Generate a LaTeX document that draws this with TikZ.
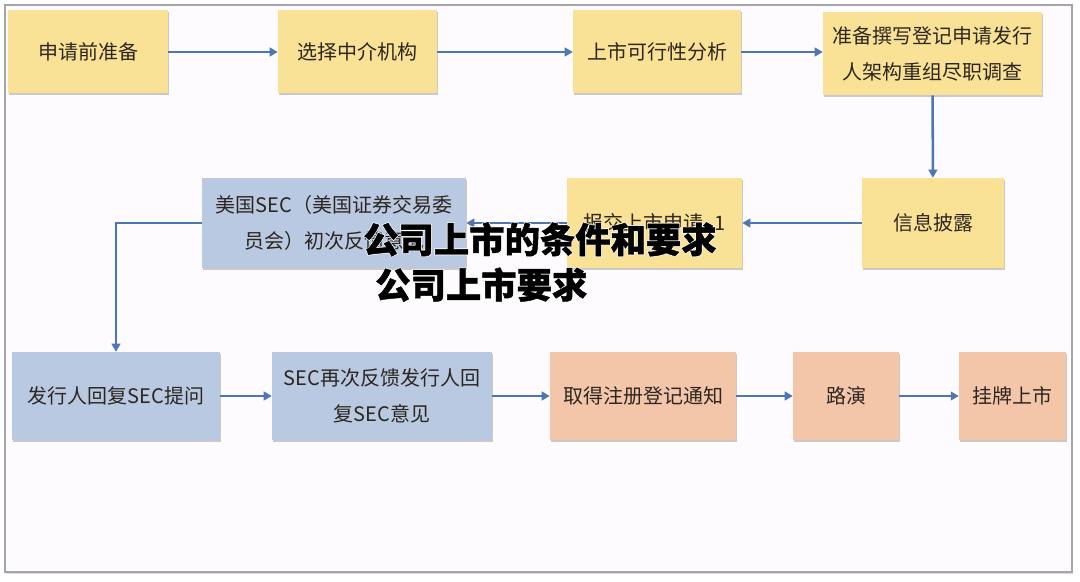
\documentclass[tikz,border=0pt]{standalone}
\usepackage{fontspec}
\usepackage{xcolor}
\usepackage{tikz}
\usetikzlibrary{arrows.meta,shadows}
\setmainfont{Noto Sans CJK SC}
\newfontfamily\titlefont{Noto Sans CJK SC}[BoldFeatures={FakeBold=1.2}]
\newfontfamily\halofont{Noto Sans CJK SC}[BoldFeatures={FakeBold=5}]

\definecolor{boxyellow}{RGB}{249,225,150}
\definecolor{boxblue}{RGB}{186,201,226}
\definecolor{boxpeach}{RGB}{243,198,170}
\definecolor{boxtext}{RGB}{45,38,32}
\definecolor{flowblue}{RGB}{78,118,178}
\definecolor{framegray}{RGB}{165,165,170}
\definecolor{pagebg}{RGB}{253,251,253}

\tikzset{
  box/.style={rectangle, inner sep=0pt, align=center, text=boxtext,
    font=\fontsize{15}{27}\selectfont,
    drop shadow={shadow xshift=0.8pt, shadow yshift=-1.2pt, fill=black!40, opacity=0.5}},
  yellowbox/.style={box, fill=boxyellow},
  bluebox/.style={box, fill=boxblue},
  peachbox/.style={box, fill=boxpeach},
  rowone/.style={minimum height=62.25pt},
  rowtwo/.style={minimum height=67.5pt},
  rowthree/.style={minimum height=66pt},
  flow/.style={draw=flowblue, line width=1.9pt, -{Triangle[length=6pt,width=6.5pt]}},
}

\begin{document}
\begin{tikzpicture}[x=0.75pt, y=-0.75pt]
\useasboundingbox (0,0) rectangle (1080,581);
\fill[white] (0,0) rectangle (1080,581);
\draw[framegray, line width=1.2pt, fill=pagebg,
  drop shadow={shadow xshift=1pt, shadow yshift=-1.5pt, fill=black!30, opacity=0.5}]
  (5,5) rectangle (1072,572);

\node[yellowbox, rowone, minimum width=120pt] (prep) at (88,52) {申请前准备};
\node[yellowbox, rowone, minimum width=119.25pt] (agency) at (357.5,52) {选择中介机构};
\node[yellowbox, rowone, minimum width=126pt] (feasible) at (657,52) {上市可行性分析};
\node[yellowbox, rowone, minimum width=164.25pt] (restructure) at (932.5,53.5) {准备撰写登记申请发行\\人架构重组尽职调查};

\node[yellowbox, rowtwo, minimum width=106.5pt] (disclose) at (933,223) {信息披露};
\node[yellowbox, rowtwo, minimum width=131.25pt] (submit) at (654.5,223) {报交上市申请\hspace{8pt}1};
\node[bluebox, rowtwo, minimum width=198pt] (secfirst) at (334,223) {美国SEC（美国证券交易委\\员会）初次反馈意见};

\node[bluebox, rowthree, minimum width=156pt] (reply) at (116,396) {发行人回复SEC提问};
\node[bluebox, rowthree, minimum width=165pt] (secagain) at (382,396) {SEC再次反馈发行人回\\复SEC意见};
\node[peachbox, rowthree, minimum width=139.5pt] (notice) at (643,396) {取得注册登记通知};
\node[peachbox, rowthree, minimum width=79.5pt] (roadshow) at (846,396) {路演};
\node[peachbox, rowthree, minimum width=80.25pt] (listing) at (1012.5,396) {挂牌上市};

\draw[flow] (prep) -- (agency);
\draw[flow] (agency) -- (feasible);
\draw[flow] (feasible) -- (restructure.west |- feasible);
\draw[flow] (restructure) -- (disclose);
\draw[flow] (disclose) -- (submit);
\draw[flow] (submit) -- (secfirst);
\draw[flow] (secfirst.west) -| (reply.north);
\draw[flow] (reply) -- (secagain);
\draw[flow] (secagain) -- (notice);
\draw[flow] (notice) -- (roadshow);
\draw[flow] (roadshow) -- (listing);

\node[text=white, align=left, font=\halofont\bfseries\fontsize{26.5}{34}\selectfont]
  (titlehalo) at (540,262) {公司上市的条件和要求\\\hspace*{9pt}公司上市要求};
\node[text=black, align=left, font=\titlefont\bfseries\fontsize{26.5}{34}\selectfont]
  (title) at (540,262) {公司上市的条件和要求\\\hspace*{9pt}公司上市要求};
\end{tikzpicture}
\end{document}
